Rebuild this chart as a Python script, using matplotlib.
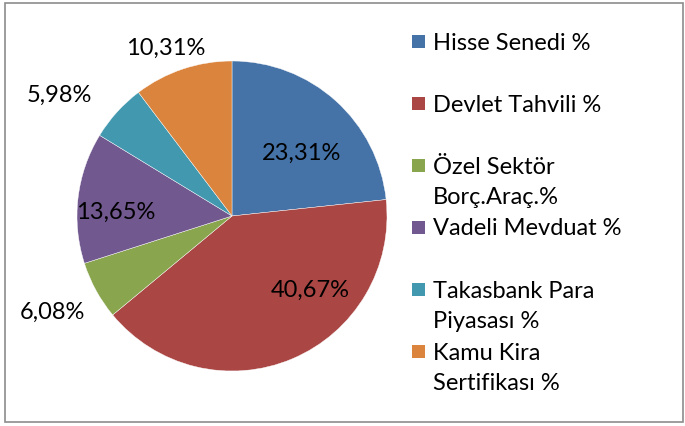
import numpy as np
import matplotlib
matplotlib.use('Agg')
import matplotlib.pyplot as plt
from matplotlib.patches import Rectangle

labels = ['Hisse Senedi %', 'Devlet Tahvili %', 'Özel Sektör\nBorç.Araç.%',
          'Vadeli Mevduat %', 'Takasbank Para\nPiyasası %', 'Kamu Kira\nSertifikası %']
values = [23.31, 40.67, 6.08, 13.65, 5.98, 10.31]
value_text = ['23,31%', '40,67%', '6,08%', '13,65%', '5,98%', '10,31%']
colors = ['#4572A7', '#AA4643', '#89A54E', '#71588F', '#4198AF', '#DB843D']

# label placement: radius (in pie radii) and angle nudge (deg) per slice
label_r = [0.61, 0.69, 1.31, 0.75, 1.36, 1.17]
label_nudge = [-5.6, 24.0, -0.7, 4.3, 7.0, 3.0]

W, H = 685, 427
fig = plt.figure(figsize=(W / 100, H / 100), dpi=100)
plt.rcParams['font.family'] = ['Lato', 'DejaVu Sans']
FS = 17

# outer frame
fig.patches.append(Rectangle((5 / W, 4 / H), 678 / W, 419 / H, transform=fig.transFigure,
                             fill=False, edgecolor='#8c8c8c', linewidth=1.2))

cx, cy, R = 232, 217, 155
ax = fig.add_axes([(cx - R) / W, (H - cy - R) / H, 2 * R / W, 2 * R / H])
wedges, _ = ax.pie(values, colors=colors, startangle=90, counterclock=False,
                   wedgeprops=dict(edgecolor='white', linewidth=0.3))
ax.set_xlim(-1, 1)
ax.set_ylim(-1, 1)
ax.set_aspect('equal')
ax.axis('off')

for w, txt, r, d in zip(wedges, value_text, label_r, label_nudge):
    ang = np.deg2rad((w.theta1 + w.theta2) / 2 + d)
    ax.text(r * np.cos(ang), r * np.sin(ang), txt, ha='center', va='center',
            fontsize=FS, color='black', clip_on=False)

# legend, one 62px slot per entry
for i, (lab, col) in enumerate(zip(labels, colors)):
    ytop = 43 + i * 62
    fig.patches.append(Rectangle((412 / W, (H - ytop - 6) / H), 13 / W, 13 / H,
                                 transform=fig.transFigure, facecolor=col, edgecolor='none'))
    yc = ytop + 15.5 if '\n' in lab else ytop
    fig.text(433 / W, (H - yc) / H, lab, ha='left', va='center',
             fontsize=FS, linespacing=1.55)

fig.savefig('out.png', dpi=100)
